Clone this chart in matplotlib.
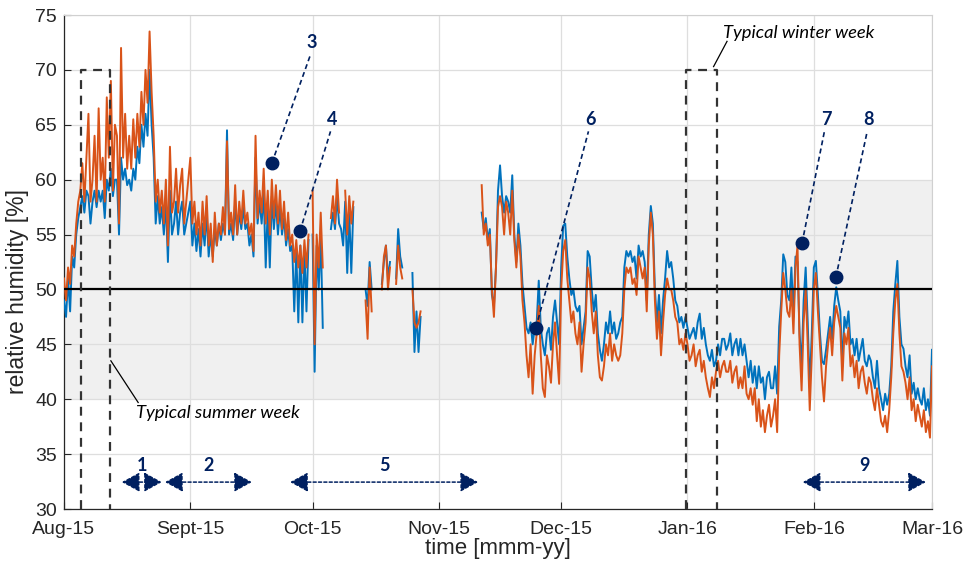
import numpy as np
import pandas as pd
import matplotlib
matplotlib.use("Agg")
import matplotlib.pyplot as plt
import matplotlib.dates as mdates
from matplotlib import font_manager
from matplotlib.patches import FancyArrowPatch
from datetime import datetime

nan = np.nan

# ---------------- data (12-hourly readings, two sensors) ----------------
month_starts = ["2015-08-01", "2015-09-01", "2015-10-01", "2015-11-01",
                "2015-12-01", "2016-01-01", "2016-02-01", "2016-03-01"]

orange_aug = [51, 49, 52, 50.5, 54, 53, 56, 58, 59, 61.5, 58, 62, 66, 58, 60, 64,
              58, 66.5, 60, 62, 58, 67.5, 62, 69, 59, 65, 64, 56, 72, 62, 66, 61,
              64, 61, 65.5, 62, 66, 63, 68, 65, 70, 67, 73.5, 68, 64, 58, 60, 57,
              59, 56, 60, 54, 63, 57, 58, 61, 57, 59.5, 61, 56, 58, 60]
blue_aug = [49, 47.5, 51, 48, 53, 52, 55, 56.5, 57.5, 58.5, 57, 59, 58.5, 56, 58, 59,
            57.5, 59, 58, 59, 56.5, 60, 59, 61, 58.5, 60, 60, 55, 62, 60, 61, 59.5,
            60, 59, 61, 60, 63, 61.5, 65, 63, 66, 64, 70, 65, 62, 56, 58.5, 56,
            57.5, 55, 58, 52.5, 59, 55, 56, 58, 55, 57, 58, 55, 56, 57]

orange_sep = [62, 56, 58, 55, 57, 54, 58, 55, 58.5, 54, 56, 52.5, 57, 54, 56, 55,
              57.5, 55, 63.5, 55.5, 57, 55, 59.5, 55, 58, 56, 59, 56, 57, 55,
              56, 53.5, 64, 56.5, 59, 57, 61, 56, 59, 55, 60, 56.5, 59.5, 56, 59, 55.5,
              58, 54.5, 57, 54, 55, 52.5, 54.5, 52, 54, 51.5, 54.5, 52, 55, nan]
blue_sep = [58, 54, 56, 53.5, 55.5, 53, 56, 54, 57, 53, 55, 53, 55.5, 54, 56, 54.5,
            56, 55, 64.5, 55, 56, 54.5, 58, 55, 57, 55.5, 57.5, 55.5, 56, 54,
            55, 53, 62, 56, 58, 56, 59, 52, 57.5, 52, 58.5, 55.5, 58, 55, 57.5, 55,
            56.5, 54, 55.5, 53.5, 54, 48, 53.5, 47, 54, 47, 53.5, 48, 54.5, nan]

orange_oct = [59, 45, 55, 52, 57, 52, nan, nan, nan, 56.5, 58.5, 56, 60, 57, nan, nan,
              59, 55, 58.5, 56, 58, nan, nan, nan, nan, nan, 49, 45.5, 52, 48, nan, nan,
              nan, nan, 50, 53, 54, 50, 52, nan, nan, 50.5, 54, 52, 51, nan, nan, nan,
              nan, 50, 47, 46.5, 47, 48, nan, nan, nan, nan, nan, nan, nan, nan]
blue_oct = [55, 42.5, 54, 50, 55, 46.5, nan, nan, nan, 55.5, 57, 55.5, 58.5, 56, 55.5, 54,
            58, 51.5, 57, 51.5, 57.5, nan, nan, nan, nan, nan, 50, 48.5, 52.5, 50, nan, nan,
            nan, nan, 50.5, 52.5, 54, 51, 52.5, nan, nan, 51, 55.5, 53, 52, nan, nan, nan,
            nan, 51.5, 44.3, 48, 44.3, 47.5, nan, nan, nan, nan, nan, nan, nan, nan]

orange_nov = [nan] * 20 + [nan, 59.5, 55, 56, 54, 55, 50, 47.5, 52, 57.5, 58.5, 57.5,
              55, 58, 57, 55, 59, 54.5, 52, 55, 53, 49, 47, 44, 42, 45, 40.5, 44,
              46, 48.5, 44, 41, 40.2, 44, 43, 41.5, 45, 47, 44, 41.4]
blue_nov = [nan] * 20 + [nan, 57, 55.5, 56.5, 54.5, 55.5, 49.5, 48.5, 52, 59, 61.3, 58.5,
            57, 58.5, 58, 57, 60.4, 55, 52.5, 56, 54, 50.5, 48.5, 46.5, 46, 47, 45, 46.5,
            47, 50.8, 46.5, 45, 44, 46, 46.5, 44.5, 47.5, 49, 47, 45]

orange_dec = [50, 53.5, 54.5, 51, 49, 47, 48, 46, 45, 47, 42.5, 45, 47, 52, 51, 48,
              46, 48, 44, 42, 41.7, 43, 45, 44, 46, 43.5, 45, 44, 43.5, 44, 46, 50,
              52, 51.5, 52, 50.5, 51, 49.5, 53, 52, 51, 52, 48, 54, 57, 55, 49, 45.5,
              48, 44, 47, 49.5, 51, 50, 50, 49, 47.5, 47, 45, 45.5, 44.5, 46]
blue_dec = [52, 55.8, 56, 53, 51, 49.5, 50, 48.5, 48, 48.5, 45, 46.5, 48, 53.5, 53, 50,
            48, 49.5, 46, 44.5, 43.5, 45, 47, 46, 48, 46, 47, 45.5, 46, 47, 47.5, 52,
            53.5, 53, 53.5, 52.5, 53, 51, 54, 53, 53.5, 52.5, 49, 55, 57.6, 56, 50, 47,
            49.5, 46, 49, 51, 53.5, 52, 52.5, 51, 49, 48.5, 47, 47.5, 46.5, 47.5]

orange_jan = [45, 43.5, 44, 45, 43, 44, 44.5, 42.5, 43.5, 42, 41, 40.2, 42, 41, 42.5, 43.5,
              42, 43, 43.5, 42.5, 42.5, 43.5, 41.5, 42.5, 43, 41, 42, 41, 43, 40.5, 40, 41,
              39.5, 41, 38, 40, 37.5, 39, 37, 38.5, 39.5, 37.5, 38.5, 40, 37, 44, 48, 51.5,
              50, 48, 47.5, 50, 46, 52, 54, 45, 40.8, 47, 50, 45, 39, 44]
blue_jan = [46.5, 45.5, 46, 46.5, 45.5, 47, 47.8, 45.5, 46.5, 45, 44, 43.5, 44.5, 43, 43.5, 45,
            44, 45.5, 45.5, 44.5, 45, 46, 44, 45, 45.5, 44, 45.5, 44, 45, 43.5, 42, 43.5,
            41.5, 43, 41, 43, 41.5, 42, 40, 42, 42.5, 41, 41, 43, 40.5, 46.6, 49, 53.2,
            52.5, 49.5, 49, 52, 47.5, 53, 52.5, 46, 43, 49, 52, 47, 41, 46]

orange_feb = [50, 51.5, 48, 45, 42, 39.8, 43, 45, 46.5, 44, 47, 48.5, 47.5, 46.5, 41.7, 46,
              45, 46.5, 43, 44, 42, 43.5, 41, 42.5, 43, 41.5, 40.5, 42, 41.5, 40, 39, 41,
              39.5, 38, 37.5, 38.5, 37, 39, 42, 46, 49, 50.5, 46, 43, 42.5, 41.5, 40, 42,
              39, 40, 38, 39.5, 38.5, 37.5, 39, 37, 38, 36.5]
blue_feb = [52, 52.6, 49.5, 46, 43.5, 43.2, 44.5, 46, 47.5, 45.5, 48.5, 50.2, 49, 48, 43, 47.5,
            46.5, 48, 45, 45.5, 44, 45.5, 43.5, 44.5, 45.5, 43.5, 43, 44, 43.5, 42, 41, 43.5,
            41, 40, 39, 40.5, 39.5, 40.5, 43, 48, 50.5, 52.6, 47.5, 45, 44.6, 43, 42, 44,
            40.5, 41.5, 40, 41, 40, 39.5, 41, 39, 40, 38.5]

orange_mar = [43]
blue_mar = [44.5]

orange_months = [orange_aug, orange_sep, orange_oct, orange_nov, orange_dec,
                 orange_jan, orange_feb, orange_mar]
blue_months = [blue_aug, blue_sep, blue_oct, blue_nov, blue_dec,
               blue_jan, blue_feb, blue_mar]

tick_labels = ["Aug-15", "Sept-15", "Oct-15", "Nov-15", "Dec-15", "Jan-16", "Feb-16", "Mar-16"]

# ---------------- build series ----------------
def build(months):
    t, v = [], []
    for start, vals in zip(month_starts, months):
        t.extend(pd.date_range(start, periods=len(vals), freq="12h"))
        v.extend(vals)
    return mdates.date2num(pd.DatetimeIndex(t).to_pydatetime()), np.array(v, float)

tb, vb = build(blue_months)
to, vo = build(orange_months)

t0 = mdates.date2num(datetime(2015, 8, 1))
def D(day):
    return t0 + day

# ---------------- fonts ----------------
avail = {f.name for f in font_manager.fontManager.ttflist}
tick_font = "Liberation Sans"
ann_font = "Lato" if "Lato" in avail else "DejaVu Sans"

NAVY = "#002060"
BLUE = "#0072BD"
ORANGE = "#D95319"

fig = plt.figure(figsize=(9.68, 5.68), dpi=100)
ax = fig.add_axes([64 / 968, 59 / 568, 868 / 968, 494 / 568])

ax.axhspan(40, 60, color="#f0f0f0", zorder=0, lw=0)
ax.grid(True, color="#dedede", lw=0.9, zorder=1)
ax.set_axisbelow(True)

ax.plot(tb, vb, color=BLUE, lw=1.4, zorder=3)
ax.plot(to, vo, color=ORANGE, lw=1.4, zorder=4)

ax.axhline(50, color="black", lw=1.6, zorder=5)

# typical week boxes
for a, b in [(4.17, 11.3), (152.6, 160.2)]:
    ax.plot([D(a), D(a), D(b), D(b)], [30, 70, 70, 30], color="#333333",
            lw=1.6, ls=(0, (4, 3)), zorder=6, clip_on=False)

ax.text(D(17.7), 38.7, "Typical summer week", fontsize=13.2, style="italic",
        family=ann_font, ha="left", va="center", zorder=7)
ax.plot([D(11.5), D(18.2)], [43.5, 39.7], color="black", lw=0.9, zorder=7)
ax.text(D(161.7), 73.4, "Typical winter week", fontsize=13.2, style="italic",
        family=ann_font, ha="left", va="center", zorder=7)
ax.plot([D(162.7), D(159.4)], [72.6, 70.3], color="black", lw=0.9, zorder=7)

# numbered markers
markers = [("3", 51.0, 61.5, 60.9, 72.5),
           ("4", 57.9, 55.3, 65.8, 65.5),
           ("6", 115.8, 46.5, 129.1, 65.5),
           ("7", 181.1, 54.2, 187.0, 65.5),
           ("8", 189.4, 51.1, 197.5, 65.5)]
for lab, dx, dy, tx, ty in markers:
    ax.plot([D(dx), D(tx - 0.4)], [dy, ty - 1.1], color=NAVY, lw=1.2,
            ls=(0, (3, 2)), zorder=8)
    ax.plot(D(dx), dy, "o", color=NAVY, ms=9, zorder=9)
    ax.text(D(tx), ty, lab, color=NAVY, fontsize=13, fontweight="bold",
            family=ann_font, ha="center", va="center", zorder=9)

# period arrows
arrows = [("1", 14.2, 24.0), ("2", 24.8, 46.1), ("5", 55.5, 101.6), ("9", 181.3, 211.5)]
for lab, a, b in arrows:
    arr = FancyArrowPatch((D(a), 32.45), (D(b), 32.45),
                          arrowstyle="<|-|>,head_length=11,head_width=6",
                          color=NAVY, lw=1.1, ls=(0, (2, 1.5)), zorder=8,
                          shrinkA=0, shrinkB=0)
    ax.add_patch(arr)
    ax.text(D((a + b) / 2), 34.0, lab, color=NAVY, fontsize=13, fontweight="bold",
            family=ann_font, ha="center", va="center", zorder=9)

# axes styling
ax.set_xlim(D(0), D(213))
ax.set_ylim(30, 75)
ax.set_yticks(np.arange(30, 76, 5))
ticks = [mdates.date2num(pd.Timestamp(s).to_pydatetime()) for s in month_starts]
ax.set_xticks(ticks)
ax.set_xticklabels(tick_labels)
ax.tick_params(direction="in", length=5, width=0.8, labelsize=14, colors="#262626")
ax.tick_params(axis="x", pad=9)
ax.tick_params(axis="y", pad=5)
for lbl in ax.get_xticklabels() + ax.get_yticklabels():
    lbl.set_family(tick_font)
for s in ["left", "bottom"]:
    ax.spines[s].set_color("#262626")
    ax.spines[s].set_linewidth(0.9)
for s in ["top", "right"]:
    ax.spines[s].set_color("#d0d0d0")
    ax.spines[s].set_linewidth(0.8)

ax.set_xlabel("time [mmm-yy]", fontsize=16, family=tick_font, color="#262626")
ax.set_ylabel("relative humidity [%]", fontsize=16.5, family=tick_font, color="#262626")
ax.xaxis.set_label_coords(0.5, -0.058)
ax.yaxis.set_label_coords(-0.040, 0.44)

fig.savefig("out.png", dpi=100)
